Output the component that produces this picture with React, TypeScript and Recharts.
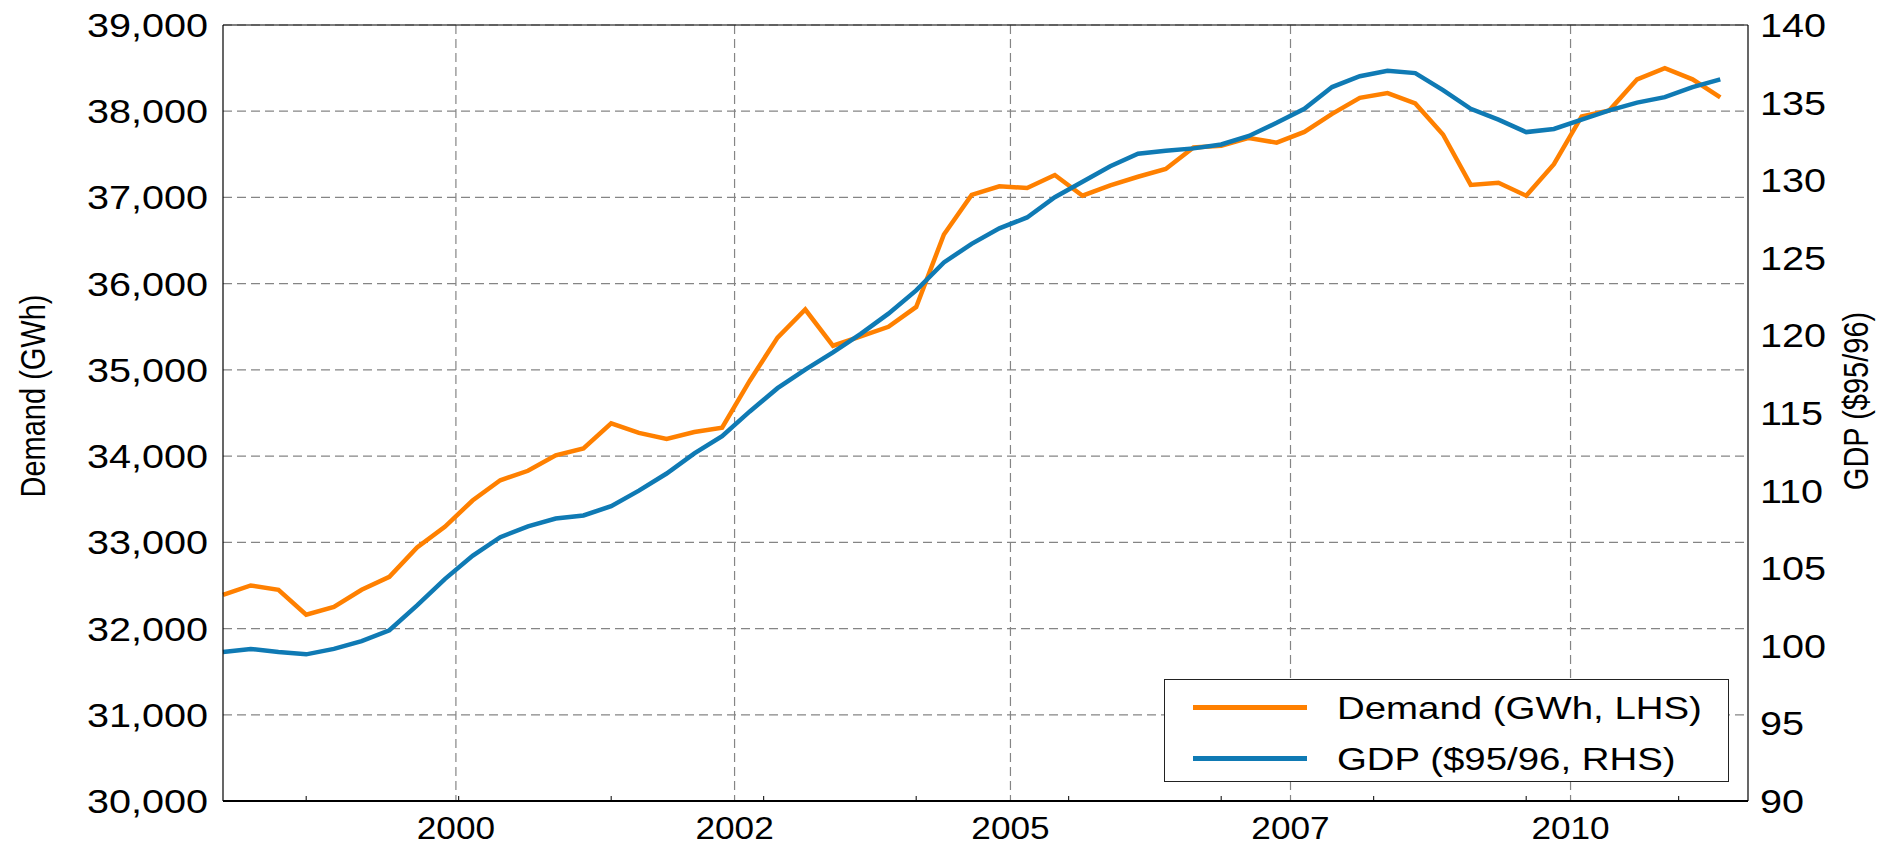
import { LineChart, Line, XAxis, YAxis, CartesianGrid, ReferenceLine } from 'recharts';

// quarterly series, index 0 = first quarter shown
const demand = [
  32390, 32500, 32450, 32160, 32250, 32450, 32600, 32940, 33180, 33485,
  33720, 33830, 34010, 34090, 34380, 34270, 34200, 34280, 34330, 34875,
  35375, 35700, 35280, 35390, 35500, 35730, 36570, 37030, 37130, 37110,
  37260, 37020, 37140, 37240, 37330, 37580, 37600, 37690, 37635, 37760,
  37970, 38155, 38210, 38090, 37730, 37145, 37170, 37020, 37385, 37940,
  38010, 38370, 38500, 38370, 38160,
];

const gdp = [
  99.6, 99.8, 99.6, 99.45, 99.8, 100.3, 101.0, 102.6, 104.3, 105.8,
  107.0, 107.7, 108.2, 108.4, 109.0, 110.0, 111.1, 112.4, 113.5, 115.1,
  116.6, 117.8, 118.9, 120.1, 121.4, 122.9, 124.7, 125.9, 126.9, 127.6,
  128.9, 129.9, 130.9, 131.7, 131.9, 132.05, 132.3, 132.85, 133.7, 134.6,
  136.0, 136.7, 137.05, 136.9, 135.8, 134.6, 133.9, 133.1, 133.3, 133.9,
  134.5, 135.0, 135.35, 136.0, 136.5,
];

const majorTicks = [8.4, 18.45, 28.4, 38.5, 48.6];
const majorLabels = ['2000', '2002', '2005', '2007', '2010'];
const minorTicks = [3, 8.5, 14, 19.5, 25, 30.5, 36, 41.5, 47, 52.5];

const leftTicks = [30000, 31000, 32000, 33000, 34000, 35000, 36000, 37000, 38000, 39000];
const rightTicks = [90, 95, 100, 105, 110, 115, 120, 125, 130, 135, 140];

const series = [
  { key: 'demand', name: 'Demand (GWh, LHS)', color: '#ff8000', axis: 'left' },
  { key: 'gdp', name: 'GDP ($95/96, RHS)', color: '#0f7ab4', axis: 'right' },
];

const data = demand.map((d, i) => ({ q: i, demand: d, gdp: gdp[i] }));
const allXTicks = [...majorTicks, ...minorTicks].sort((a, b) => a - b);

const FONT = '"Liberation Sans", Arial, sans-serif';

function LeftTick({ x, y, payload }: any) {
  return (
    <text transform={`translate(${x - 15},${y + 12}) scale(1.2,1)`} textAnchor="end"
      fontSize={33} fontFamily={FONT} fill="#000">
      {Number(payload.value).toLocaleString('en-US')}
    </text>
  );
}

function RightTick({ x, y, payload }: any) {
  return (
    <text transform={`translate(${x + 12},${y + 12}) scale(1.2,1)`} textAnchor="start"
      fontSize={33} fontFamily={FONT} fill="#000">
      {payload.value}
    </text>
  );
}

function BottomTick({ x, y, payload }: any) {
  const idx = majorTicks.indexOf(payload.value);
  if (idx < 0) {
    return <line x1={x} x2={x} y1={y} y2={y - 5} stroke="#000" strokeWidth={1} />;
  }
  return (
    <text transform={`translate(${x},${y + 38}) scale(1.1,1)`} textAnchor="middle"
      fontSize={32} fontFamily={FONT} fill="#000">
      {majorLabels[idx]}
    </text>
  );
}

function AxisTitle(text: string, dx: number, dy: number) {
  return ({ viewBox }: any) => {
    const cx = viewBox.x + dx;
    const cy = viewBox.y + viewBox.height / 2 + dy;
    return (
      <text transform={`translate(${cx},${cy}) rotate(-90) scale(1,1.2)`} textAnchor="middle"
        dominantBaseline="central" fontSize={29} fontFamily={FONT} fill="#000">
        {text}
      </text>
    );
  };
}

export default function App() {
  return (
    <div style={{ position: 'absolute', left: 0, top: 0, width: 1884, height: 846, background: '#fff' }}>
      <LineChart width={1884} height={846} data={data} margin={{ top: 25, right: 0, bottom: 0, left: 0 }}>
        <CartesianGrid yAxisId="left" stroke="#858585" strokeWidth={1.2} strokeDasharray="9 5"
          verticalValues={majorTicks} />
        <XAxis dataKey="q" type="number" domain={[0, 55]} ticks={allXTicks} interval={0}
          height={45} tickSize={0} tickMargin={0} tickLine={false}
          axisLine={{ stroke: '#000', strokeWidth: 2 }} tick={<BottomTick />} />
        <YAxis yAxisId="left" orientation="left" width={223} domain={[30000, 39000]} ticks={leftTicks}
          interval={0} tickSize={0} tickMargin={0} tickLine={false}
          axisLine={{ stroke: '#000', strokeWidth: 1.2 }} tick={<LeftTick />}
          label={{ content: AxisTitle('Demand (GWh)', 33, -17) }} />
        <YAxis yAxisId="right" orientation="right" width={136} domain={[90, 140]} ticks={rightTicks}
          interval={0} tickSize={0} tickMargin={0} tickLine={false}
          axisLine={{ stroke: '#000', strokeWidth: 1.2 }} tick={<RightTick />}
          label={{ content: AxisTitle('GDP ($95/96)', 108, -12) }} />
        <ReferenceLine yAxisId="left" y={39000} stroke="#000" strokeWidth={1.2} />
        {series.map((s) => (
          <Line key={s.key} yAxisId={s.axis} dataKey={s.key} name={s.name} type="linear"
            stroke={s.color} strokeWidth={4.5} dot={false} isAnimationActive={false} />
        ))}
      </LineChart>
      <div style={{ position: 'absolute', left: 1164, top: 679, width: 563, height: 101,
        border: '1.5px solid #222', background: '#fff' }}>
        {series.map((s, i) => (
          <div key={s.key}>
            <div style={{ position: 'absolute', left: 27.5, top: 25 + i * 51, width: 114, height: 5,
              background: s.color }} />
            <div style={{ position: 'absolute', left: 171.5, top: 12 + i * 51, fontSize: 32, lineHeight: 1,
              fontFamily: FONT, color: '#000', whiteSpace: 'nowrap', transform: 'scaleX(1.2)',
              transformOrigin: 'left center' }}>
              {s.name}
            </div>
          </div>
        ))}
      </div>
    </div>
  );
}
